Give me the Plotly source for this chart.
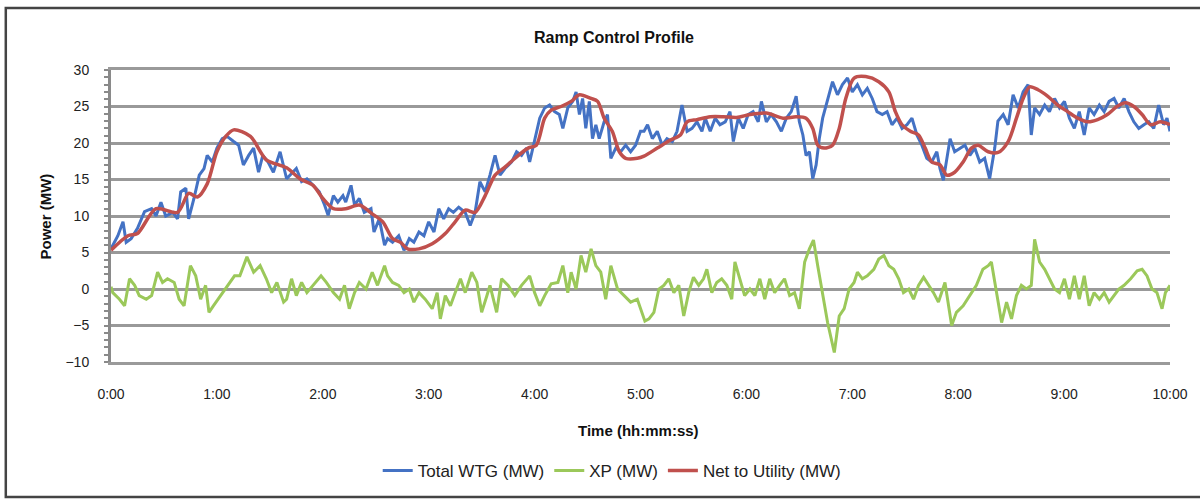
import plotly.graph_objects as go

# ---- data (time in minutes, power in MW) ----
wtg_t = [0, 1, 3.9, 6.8, 8.6, 11.4, 15, 19, 23, 25.5, 28.3, 31, 35, 37.7, 39.5, 42.4, 44, 47, 50, 52.7, 54.5,
         57.4, 60, 63, 65.8, 69.5, 72.3, 75, 78, 80.8, 83.6, 86, 89, 92, 95.8, 99.5,
         105, 108, 111, 114.5, 118, 121, 123, 126, 128.5, 131.4, 133, 136, 138, 140.7, 143.5, 147.3, 149,
         152, 155, 156.7, 159.5, 163, 166, 169, 171.6, 174.5, 177.3, 180, 183, 185.7, 188.5, 191.3, 194, 197,
         200.7, 203.5, 206.3, 209, 212, 214.7, 217.6, 220.4, 223.2, 227, 229.8, 232.6, 235.4, 237.2, 240,
         242.9, 245.7, 248.5, 251.3, 254, 256, 258.8, 261.6, 263.5, 265.4, 267.2, 269, 271, 272.8, 274.7,
         276.6, 279.4, 281.3, 283.2, 286, 288.8, 291.6, 294.4, 297.2, 300,
         302, 304, 306.7, 309.5, 312.3, 315, 318, 320.7, 323.5, 326.4, 329.2, 332, 334.8, 336.7, 339.5,
         342.3, 345, 348, 350.7, 352.6, 355.4, 358.2, 361, 363.8, 366.7, 368.5, 371.3, 374, 377, 379.8,
         382.6, 385.4, 388.2, 390, 392, 393.8, 395.7, 397.6, 399.5, 401.3,
         403.2, 406, 408.8, 411.6, 414.4, 417.3, 420, 422.9, 425.7, 428.5, 431.3, 434, 437, 439.7, 442.5,
         445.4, 448.2, 451, 453.8, 456.6, 459.4, 462.2, 465, 467.9, 469.7, 471.6, 473.5, 475.4, 478, 481,
         483.8, 486.6, 489.4, 492.2, 495, 497.8, 500.7, 502.5,
         505.5, 508.3, 511.1, 514, 516.8, 519.6, 521.4, 523.3, 526.1, 529, 531.7, 534.6, 537.4, 540.2, 543,
         545.8, 548.6, 551.4, 554.2, 557, 560, 562.7, 565.5, 568.3, 571, 574, 576.7, 579.5, 582.3, 585.2,
         588, 590.8, 593.6, 596.4, 598.3, 600]
wtg_v = [5.5, 6.0, 7.3, 9.2, 6.4, 6.9, 8.3, 10.6, 11.0, 10.0, 11.9, 10.0, 10.5, 9.6, 13.3, 13.8, 9.6, 12.4, 15.6, 16.5, 18.3,
         17.4, 19.3, 20.6, 20.9, 20.2, 19.7, 17.0, 18.3, 19.3, 16.0, 18.3, 17.4, 16.0, 18.8, 15.1,
         16.5, 14.7, 15.1, 14.2, 13.3, 11.5, 10.1, 12.8, 11.9, 12.8, 11.9, 14.2, 11.5, 12.4, 10.5, 11.0, 7.8,
         9.6, 6.0, 6.9, 6.4, 7.3, 5.3, 6.9, 6.4, 7.8, 7.3, 9.2, 7.8, 11.0, 9.6, 11.0, 10.5, 11.2,
         10.5, 8.7, 10.5, 14.7, 13.3, 15.6, 18.3, 15.6, 16.5, 17.4, 18.8, 18.3, 19.3, 17.4, 20.2,
         23.4, 24.8, 25.2, 24.3, 23.9, 22.0, 24.8, 25.7, 27.0, 23.9, 26.1, 22.0, 25.7, 20.6, 22.5,
         20.6, 22.9, 23.9, 17.9, 19.3, 18.8, 19.7, 18.8, 19.7, 21.6,
         21.6, 22.5, 20.6, 21.6, 19.7, 20.6, 20.2, 21.6, 25.2, 21.6, 22.0, 22.9, 21.6, 23.4, 21.6,
         23.4, 22.5, 22.9, 24.3, 20.2, 23.4, 22.0, 23.9, 24.3, 22.9, 25.7, 22.9, 23.9, 22.9, 21.6,
         23.4, 24.3, 26.4, 22.9, 21.1, 18.3, 18.8, 15.1, 17.0, 20.6,
         23.4, 26.1, 28.4, 26.6, 28.0, 28.9, 27.0, 28.0, 26.6, 27.5, 26.1, 24.3, 23.9, 24.3, 22.5,
         23.4, 22.0, 22.5, 23.4, 21.1, 19.7, 17.9, 17.4, 18.8, 16.5, 14.9, 17.9, 20.6, 18.8, 19.3,
         19.7, 18.3, 19.3, 17.4, 17.9, 15.1, 19.3, 23.0,
         23.9, 22.5, 26.6, 24.8, 27.0, 28.0, 21.1, 24.8, 23.9, 25.2, 24.3, 26.1, 24.8, 25.7, 23.4,
         22.0, 24.3, 21.1, 24.8, 23.9, 25.2, 24.3, 25.7, 26.1, 24.8, 26.1, 24.3, 22.9, 22.0, 22.5,
         22.9, 22.0, 25.2, 22.5, 23.4, 21.6]

xp_t = [0, 1, 4.8, 7.7, 10.5, 13.4, 16, 20, 23, 26.4, 29.2, 32, 35.8, 38.6, 41.4, 45, 48, 50.8, 53.6, 55.5,
        58, 62, 65.8, 70, 73, 77, 80.8, 84.5, 88, 91, 94, 97.8, 99.5,
        102.3, 105, 108, 111, 114.5, 119, 122, 126, 129.5, 132.3, 135, 138, 140.7, 144.5, 148, 151, 155,
        156.7, 159.5, 163, 166, 169, 171.6, 174.5, 178, 182, 184.8, 186.6, 189.4, 192.3, 195, 198, 200.7,
        204.4, 207.3, 210, 213, 214.7, 218.5, 221.3, 225, 228.8, 232.6, 237.2, 240, 242.9, 245.7, 249.4,
        253.2, 256, 258.8, 260.7, 263.5, 266.3, 269, 272, 274.7, 277.5, 280.3, 283.2, 287, 290.6, 294.4,
        298.2, 302.5, 304.8, 307.6, 310.4, 313.2, 316, 318.9, 321.7, 324.5, 327.3, 330, 333, 335.7, 337.6,
        340.4, 343.2, 346, 348.9, 351.7, 353.5, 356.3, 359, 362, 364.8, 367.6, 370.4, 373.2, 376, 378.8,
        381.6, 384.5, 387.3, 390, 393, 395.7, 398, 400.4, 403.2, 406, 409.8,
        412.6, 415.4, 418.2, 421, 422.9, 425.7, 428.5, 432.2, 435, 437.9, 440.7, 443.5, 446.3, 449, 452,
        454.7, 457.5, 460.4, 463.2, 466, 468.8, 472.5, 476.3, 479, 482.8, 486.6, 490.3, 494, 497, 498.8,
        501.6, 504.6, 507.4, 510.2, 513, 515.8, 518.6, 521.4, 523.3, 526.1, 529, 531.7, 534.6, 537.4,
        540.2, 543, 545.8, 548.6, 551.4, 554.2, 557, 560, 562.7, 565.5, 568.3, 571, 574, 577.7, 581.4,
        584.2, 587, 589.8, 592.6, 595.5, 597.4, 600]
xp_v = [0.3, -0.5, -1.4, -2.3, 1.4, 0.5, -0.9, -1.4, -0.9, 2.3, 0.9, 1.4, 0.9, -1.4, -2.3, 3.2, 1.8, -1.4, 0.5, -3.2,
        -2.3, -0.9, 0.5, 1.8, 1.8, 4.4, 2.3, 3.2, 1.4, -0.5, 0.9, -1.8, -1.4,
        1.4, -0.9, 0.9, -0.5, 0.5, 1.8, 0.9, -0.5, -1.4, 0.5, -2.7, -0.5, 0.9, 0.0, 2.3, 0.5, 3.2,
        1.8, 0.9, 0.5, -0.5, 0.0, -1.8, -0.5, -1.4, -2.7, -0.5, -4.1, -0.9, -2.3, -0.5, 1.4, -0.5,
        2.3, 0.9, -3.2, -0.9, 0.5, -3.2, 1.4, 0.5, -0.9, 0.5, 1.8, -0.5, -2.3, -0.9, 0.7,
        0.9, 3.2, -0.5, 2.3, 0.0, 4.6, 2.3, 5.5, 3.2, 2.3, -1.4, 3.2, 0.0, -0.9, -1.8,
        -1.4, -4.4, -4.1, -3.2, 0.0, 0.5, 1.4, -0.5, 0.5, -3.7, -0.5, 1.6, 0.5, 1.4, 2.7,
        -0.5, 0.9, 1.4, 0.5, -1.4, 3.7, 1.4, -0.9, 0.0, -0.9, 1.4, -1.4, 1.4, -0.5, 0.5,
        1.4, -0.9, -0.5, -2.7, 3.7, 5.5, 6.7, 3.2, -0.5, -4.6, -8.7,
        -3.7, -2.7, 0.0, 0.9, 2.3, 1.4, 1.8, 2.7, 4.1, 4.6, 3.2, 2.7, 1.4, -0.5, 0.0,
        -1.4, 0.5, 1.6, 0.5, -0.5, -1.8, 0.9, -5.0, -3.2, -2.3, -0.9, 0.5, 2.7, 3.2, 3.7,
        -0.5, -4.6, -1.8, -4.1, -0.9, 0.5, 0.0, 0.5, 6.8, 3.7, 2.7, 1.4, 0.0, -0.5,
        1.4, -1.4, 1.8, -1.4, 1.8, -2.3, -0.5, -1.4, -0.5, -1.8, -0.9, 0.0, 0.5, 1.4, 2.5,
        2.7, 1.8, 0.0, -0.5, -2.7, -0.5, 0.5]

net_t = [0, 9.6, 15, 25.5, 37.7, 44, 49, 54.5, 60, 65, 69.5, 79, 88, 99.5, 107, 114.5, 120, 126, 133, 140.7,
         148, 154, 159.5, 164, 168, 174.5, 182, 189.4, 195, 200.7, 206.3, 212, 217.6, 223.2, 228.8, 236.3,
         241, 245.7, 249.4, 255, 260.7, 265.4, 272, 275.7, 279.4, 284, 288, 291.6, 298.2, 302, 309.5, 317,
         322.6, 326.4, 332, 339.5, 347, 354.5, 362, 371.3, 380.7, 388.2, 393.8, 397.6, 400.4, 404, 408.8,
         412.6, 416.3, 421, 427.6, 435, 440.7, 444.4, 448.2, 452.9, 457.5, 461.3, 465, 469.7, 473.5, 478,
         482.8, 487.5, 491.3, 497, 502.6, 508.3, 513, 516.8, 520.5, 525.2, 530.8, 536.4, 542, 547.7, 553.3,
         559, 564.5, 570, 574.8, 579.5, 584.2, 589, 594.5, 600]
net_v = [5.3, 7.3, 7.6, 11.0, 10.5, 13.1, 12.6, 14.4, 18.8, 20.9, 21.8, 20.9, 17.7, 16.6, 15.1, 14.2, 12.4, 11.0, 11.0, 11.5,
         10.3, 9.2, 6.9, 6.4, 5.5, 5.5, 6.2, 7.6, 9.2, 10.8, 10.5, 12.8, 15.6, 16.7, 17.9, 19.3,
         19.7, 23.4, 24.5, 25.0, 25.7, 26.6, 26.1, 25.7, 23.4, 21.6, 18.8, 17.9, 17.9, 18.2, 19.3, 20.4,
         21.1, 22.9, 23.2, 23.6, 23.6, 23.5, 23.9, 24.1, 23.4, 23.6, 23.4, 22.0, 19.7, 19.3, 19.7,
         22.0, 26.1, 28.9, 29.1, 28.4, 27.0, 24.3, 22.5, 21.6, 21.1, 19.3, 17.4, 17.0, 15.6, 16.0,
         17.4, 19.3, 19.7, 18.8, 18.7, 20.2, 23.4, 26.1, 27.7, 27.3, 26.4, 25.2, 24.3, 23.4, 22.9,
         23.2, 23.9, 25.0, 25.5, 25.0, 23.9, 22.5, 22.9, 22.5]

tick_vals = [0, 60, 120, 180, 240, 300, 360, 420, 480, 540, 600]
tick_text = ["0:00", "1:00", "2:00", "3:00", "4:00", "5:00", "6:00", "7:00", "8:00", "9:00", "10:00"]

FONT = "Liberation Sans, Arial, sans-serif"

fig = go.Figure()
fig.add_trace(go.Scatter(x=wtg_t, y=wtg_v, mode="lines", name="Total WTG (MW)",
                         line=dict(color="#4472C4", width=3)))
fig.add_trace(go.Scatter(x=xp_t, y=xp_v, mode="lines", name="XP (MW)",
                         line=dict(color="#9BC85A", width=3)))
fig.add_trace(go.Scatter(x=net_t, y=net_v, mode="lines", name="Net to Utility (MW)",
                         line=dict(color="#C0504D", width=3.5, shape="spline", smoothing=0.8)))

fig.update_layout(
    width=1200, height=503,
    margin=dict(l=111, r=22, t=70, b=141),
    paper_bgcolor="white", plot_bgcolor="white",
    font=dict(family=FONT, size=14, color="#222"),
    title=dict(text="<b>Ramp Control Profile</b>", x=614 / 1200, xanchor="center",
               y=1 - 37 / 503, yanchor="middle", font=dict(size=16, color="#111")),
    showlegend=True,
    legend=dict(orientation="h", x=(616 - 111) / 1067, xanchor="center", y=(362 - 471) / 292, yanchor="middle",
                font=dict(size=17, color="#222"), itemwidth=30, tracegroupgap=0),
)

fig.update_xaxes(range=[0, 600], tickvals=tick_vals, ticktext=tick_text, showgrid=False,
                 zeroline=False, showline=True, mirror=True, linecolor="#9a9a9a", linewidth=2.5,
                 ticks="", ticklabelstandoff=17,
                 tickfont=dict(size=14, color="#222"))
fig.update_yaxes(range=[-10, 30], dtick=5, showgrid=True, gridcolor="#999999", gridwidth=3,
                 zeroline=False, showline=True, linecolor="#8a8a8a", linewidth=3,
                 ticks="outside", ticklen=4, tickcolor="#8a8a8a", tickwidth=2,
                 minor=dict(dtick=1, ticks="outside", ticklen=4, tickcolor="#8a8a8a", tickwidth=2, showgrid=False),
                 ticklabelstandoff=12, tickfont=dict(size=14, color="#222"))

fig.add_annotation(text="<b>Time (hh:mm:ss)</b>", xref="paper", yref="paper",
                   x=(642 - 111) / 1067, y=(362 - 430) / 292, showarrow=False,
                   font=dict(size=15, color="#111"), xanchor="center", yanchor="middle")
fig.add_annotation(text="<b>Power (MW)</b>", xref="paper", yref="paper",
                   x=(45 - 111) / 1067, y=0.5, showarrow=False, textangle=-90,
                   font=dict(size=15, color="#111"), xanchor="center", yanchor="middle")

# chart border
fig.add_shape(type="rect", xref="paper", yref="paper",
              x0=(5 - 111) / 1067, x1=(1215 - 111) / 1067,
              y0=(362 - 497) / 292, y1=(362 - 8) / 292,
              line=dict(color="#444", width=2.5), fillcolor="rgba(0,0,0,0)", layer="below")

fig.write_html("out.html", config={"displayModeBar": False},
               post_script="document.body.style.margin='0';document.body.style.overflow='hidden';")
